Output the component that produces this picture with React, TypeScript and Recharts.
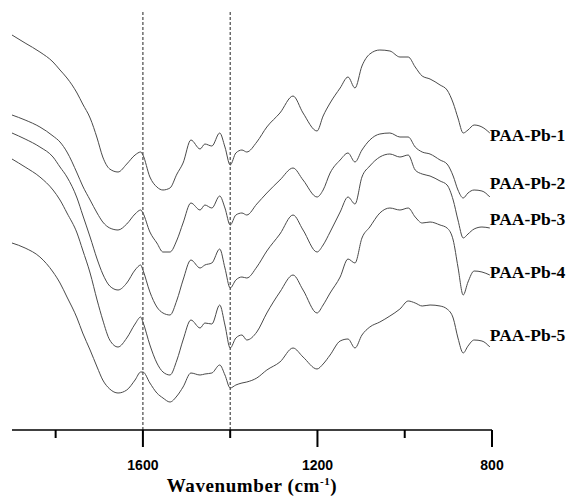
import React from "react";
import { LineChart, Line, XAxis, YAxis, ReferenceLine } from "recharts";

// wavenumber grid (cm-1)
const wavenumbers = [
  1900, 1870, 1836, 1806, 1790, 1774, 1751, 1738, 1721, 1705,
  1692, 1676, 1657, 1637, 1618, 1605, 1600, 1584, 1568, 1554,
  1538, 1522, 1508, 1490, 1469, 1458, 1442, 1424, 1412, 1400,
  1387, 1373, 1362, 1339, 1316, 1286, 1256, 1233, 1201, 1187,
  1171, 1148, 1130, 1114, 1098, 1080, 1057, 1034, 1011, 992,
  976, 960, 942, 919, 903, 889, 878, 866, 855, 841,
  823, 805,
];

// transmittance (a.u., already stacked with offsets)
const pb1 = [
  395, 387, 378, 368, 360, 352, 337, 326, 312, 292,
  273, 261, 258, 266, 275, 278, 275, 253, 243, 240,
  242, 256, 267, 290, 281, 286, 284, 297, 283, 265,
  277, 280, 278, 288, 303, 317, 334, 317, 299, 314,
  327, 342, 353, 342, 364, 376, 380, 379, 373, 373,
  363, 354, 351, 345, 340, 327, 312, 297, 300, 305,
  303, 297,
];
const pb2 = [
  315, 310, 303, 294, 288, 278, 257, 244, 230, 217,
  208, 202, 200, 206, 216, 220, 217, 198, 187, 178,
  178, 190, 207, 227, 220, 225, 222, 234, 222, 205,
  215, 217, 215, 226, 237, 250, 262, 250, 233, 240,
  257, 270, 277, 268, 280, 290, 296, 297, 293, 293,
  283, 278, 276, 270, 266, 254, 240, 232, 237, 240,
  239, 233,
];
const pb3 = [
  297, 291, 283, 273, 263, 253, 232, 215, 193, 171,
  156, 144, 140, 147, 160, 165, 160, 138, 123, 117,
  115, 130, 150, 170, 162, 165, 167, 181, 162, 142,
  150, 153, 152, 163, 179, 196, 215, 200, 178, 185,
  198, 218, 233, 226, 253, 264, 273, 276, 273, 275,
  260, 256, 254, 249, 245, 230, 210, 192, 196, 201,
  203, 202,
];
const pb4 = [
  271, 263, 253, 240, 230, 217, 197, 180, 157, 130,
  110, 90, 83, 92, 106, 113, 108, 85, 67, 58,
  55, 70, 90, 110, 102, 107, 106, 125, 105, 82,
  92, 95, 90, 98, 117, 138, 155, 140, 117, 125,
  137, 153, 171, 167, 192, 203, 217, 222, 220, 222,
  213, 207, 208, 205, 202, 190, 163, 135, 148, 159,
  158, 155,
];
const pb5 = [
  187, 182, 173, 158, 147, 133, 112, 97, 80, 63,
  50, 41, 37, 40, 50, 58, 58, 47, 37, 32,
  28, 34, 43, 57, 55, 56, 57, 65, 55, 42,
  45, 47, 48, 52, 60, 68, 82, 73, 61, 66,
  75, 89, 91, 82, 95, 103, 108, 114, 121, 129,
  127, 124, 125, 124, 121, 112, 92, 77, 84, 90,
  89, 83,
];

const seriesNames = ["PAA-Pb-1", "PAA-Pb-2", "PAA-Pb-3", "PAA-Pb-4", "PAA-Pb-5"];
const seriesValues = [pb1, pb2, pb3, pb4, pb5];
const xTicks = [1800, 1600, 1400, 1200, 1000, 800];
const labeledTicks = [1600, 1200, 800];
const markerLines = [1600, 1400];

// label nudges (px) so names sit like the original
const labelDy = [2, -14, -9, -3, -12];

const data = wavenumbers.map((wn, i) => {
  const row: Record<string, number> = { wn };
  seriesValues.forEach((vals, s) => {
    row[`s${s}`] = vals[i];
  });
  return row;
});

const serif = "'Liberation Serif', 'Times New Roman', serif";
const sans = "'Liberation Sans', Arial, sans-serif";

const AxisTick = (props: any) => {
  const { x, y, payload } = props;
  const major = labeledTicks.includes(payload.value);
  return (
    <g>
      <line x1={x} x2={x} y1={y} y2={y + (major ? 17 : 8)} stroke="#000" strokeWidth={2} />
      {major && (
        <text
          x={x}
          y={y + 35}
          textAnchor="middle"
          dominantBaseline="central"
          fontFamily={sans}
          fontWeight="bold"
          fontSize={14}
          fill="#000"
        >
          {payload.value}
        </text>
      )}
    </g>
  );
};

const makeLabel = (s: number) => (props: any) => {
  const { x, y, index } = props;
  if (index !== wavenumbers.length - 1) return null;
  return (
    <text
      x={x}
      y={y + labelDy[s]}
      dominantBaseline="central"
      fontFamily={serif}
      fontWeight="bold"
      fontSize={17.5}
      fill="#000"
    >
      {seriesNames[s]}
    </text>
  );
};

export default function App() {
  return (
    <div style={{ position: "absolute", left: 0, top: 0, width: 570, height: 504, background: "#fff" }}>
      <LineChart
        width={570}
        height={504}
        data={data}
        margin={{ top: 0, right: 78, bottom: 14, left: 12 }}
      >
        <XAxis
          dataKey="wn"
          type="number"
          domain={[800, 1900]}
          reversed
          ticks={xTicks}
          interval={0}
          tickSize={0}
          tickMargin={0}
          tickLine={false}
          tick={<AxisTick />}
          axisLine={{ stroke: "#000", strokeWidth: 1.5 }}
          height={60}
          label={() => (
            <text
              x={252}
              y={492}
              textAnchor="middle"
              fontFamily={serif}
              fontWeight="bold"
              fontSize={19}
              letterSpacing={0.6}
              fill="#000"
            >
              Wavenumber (cm
              <tspan dy={-7} fontSize={11}>-1</tspan>
              <tspan dy={7}>)</tspan>
            </text>
          )}
        />
        <YAxis hide type="number" domain={[0, 430]} />
        {markerLines.map((wn) => (
          <ReferenceLine
            key={wn}
            segment={[
              { x: wn, y: 0 },
              { x: wn, y: 419 },
            ]}
            stroke="#222"
            strokeWidth={1}
            strokeDasharray="3 2"
            ifOverflow="visible"
          />
        ))}
        {seriesNames.map((name, s) => (
          <Line
            key={name}
            dataKey={`s${s}`}
            name={name}
            type="monotone"
            stroke="#4a4a4a"
            strokeWidth={1}
            dot={false}
            isAnimationActive={false}
            label={makeLabel(s)}
          />
        ))}
      </LineChart>
    </div>
  );
}
